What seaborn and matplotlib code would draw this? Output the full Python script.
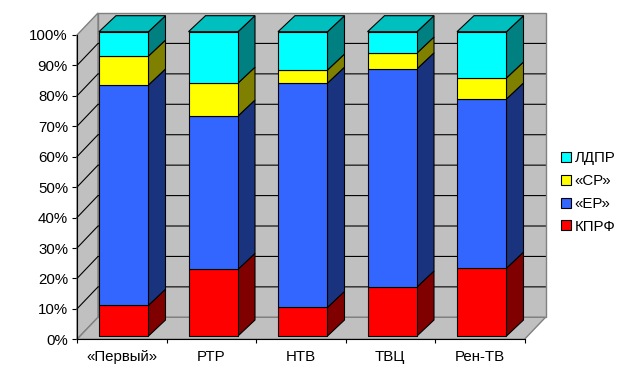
import numpy as np
import pandas as pd
import matplotlib
matplotlib.use('Agg')
import matplotlib.pyplot as plt
from matplotlib.patches import Patch
import seaborn as sns

# shares of airtime per channel
channels = ['«Первый»', 'РТР', 'НТВ', 'ТВЦ', 'Рен-ТВ']
kprf = [10.1, 21.9, 9.4, 16.1, 22.3]
er = [72.4, 50.4, 73.7, 71.7, 55.6]
sr = [9.5, 10.8, 4.3, 5.2, 6.9]
ldpr = [8.0, 16.9, 12.6, 7.0, 15.2]
tick_pct = list(range(0, 101, 10))

df = pd.DataFrame({'channel': channels, 'КПРФ': kprf, '«ЕР»': er, '«СР»': sr, 'ЛДПР': ldpr})
parties = ['КПРФ', '«ЕР»', '«СР»', 'ЛДПР']
front = ['#FF0000', '#3366FF', '#FFFF00', '#00FFFF']
side = ['#800000', '#1A337F', '#808000', '#008080']
top_col = '#00BFBF'
wall = '#C0C0C0'
wall_edge = '#808080'

sns.set_theme(style='white')
plt.rcParams['font.family'] = ['Liberation Sans', 'DejaVu Sans']

fig = plt.figure(figsize=(6.23, 3.83), dpi=100)
ax = fig.add_axes([77 / 623, (383 - 339.3) / 383, 447.5 / 623, 304.3 / 383])
ax.patch.set_visible(False)

# pixel -> data units for the fake 3d depth
ux = 447.5 / 5
uy = 304.3 / 100
wall_dx, wall_dy = 21 / ux, 22 / uy
bar_dx, bar_dy = 17 / ux, 16 / uy
shift_x, shift_y = 2 / ux, 3.3 / uy
lw = 0.8

bottom = np.zeros(len(channels))
for i, p in enumerate(parties):
    n_before = len(ax.patches)
    sns.barplot(data=df, x='channel', y=p, bottom=bottom, color=front[i], saturation=1,
                width=0.553, edgecolor='black', linewidth=lw, ax=ax, zorder=5)
    # move the box off the front plane and add its side, plus the lid on the last series
    for patch in ax.patches[n_before:]:
        patch.set_x(patch.get_x() + shift_x)
        patch.set_y(patch.get_y() + shift_y)
        patch.set_clip_on(False)
        x1 = patch.get_x() + patch.get_width()
        y0 = patch.get_y()
        y1 = y0 + patch.get_height()
        ax.fill([x1, x1 + bar_dx, x1 + bar_dx, x1], [y0, y0 + bar_dy, y1 + bar_dy, y1],
                facecolor=side[i], edgecolor='black', lw=lw, clip_on=False, zorder=4)
        if p == 'ЛДПР':
            x0 = patch.get_x()
            ax.fill([x0, x1, x1 + bar_dx, x0 + bar_dx], [y1, y1, y1 + bar_dy, y1 + bar_dy],
                    facecolor=top_col, edgecolor='black', lw=lw, clip_on=False, zorder=4)
    bottom = bottom + df[p].values

xa, xb = -0.5, 4.5
ax.set_xlim(xa, xb)
ax.set_ylim(0, 100)

# walls and floor
ax.fill([xa + wall_dx, xb + wall_dx, xb + wall_dx, xa + wall_dx],
        [wall_dy, wall_dy, 100 + wall_dy, 100 + wall_dy],
        facecolor=wall, edgecolor=wall_edge, lw=1, clip_on=False, zorder=1)
ax.fill([xa, xa + wall_dx, xa + wall_dx, xa], [0, wall_dy, 100 + wall_dy, 100],
        facecolor=wall, edgecolor=wall_edge, lw=1, clip_on=False, zorder=1)
ax.fill([xa, xb, xb + wall_dx, xa + wall_dx], [0, 0, wall_dy, wall_dy],
        facecolor=wall, edgecolor=wall_edge, lw=1, clip_on=False, zorder=1)

# gridlines go round the corner
for t in tick_pct[1:-1]:
    ax.plot([xa, xa + wall_dx, xb + wall_dx], [t, t + wall_dy, t + wall_dy],
            color='black', lw=lw, clip_on=False, zorder=2)

ax.set_yticks(tick_pct)
ax.set_yticklabels([f'{t}%' for t in tick_pct])
ax.set_xticks(np.arange(xa, xb + 1))
ax.set_xticklabels([])
ax.set_xticks(np.arange(len(channels)), labels=channels, minor=True)
ax.tick_params(axis='y', which='major', length=3.5, width=lw, color='black', pad=3,
               labelsize=10.8, labelcolor='black', left=True)
ax.tick_params(axis='x', which='major', length=3, width=lw, color='black', bottom=True)
ax.tick_params(axis='x', which='minor', length=0, pad=8, labelsize=10.8, labelcolor='black')
ax.set_xlabel('')
ax.set_ylabel('')
sns.despine(ax=ax, top=True, right=True)
for s in ['left', 'bottom']:
    ax.spines[s].set_color('black')
    ax.spines[s].set_linewidth(lw)
    ax.spines[s].set_zorder(6)

handles = [Patch(facecolor=front[i], edgecolor='black', lw=lw, label=parties[i]) for i in [3, 2, 1, 0]]
fig.legend(handles=handles, loc='center left', bbox_to_anchor=(561 / 623, 1 - 192.5 / 383), frameon=False,
           fontsize=10.8, handlelength=0.65, handleheight=0.65, handletextpad=0.25,
           labelspacing=0.58, borderpad=0, borderaxespad=0, labelcolor='black')

fig.savefig('out.png', dpi=100)
